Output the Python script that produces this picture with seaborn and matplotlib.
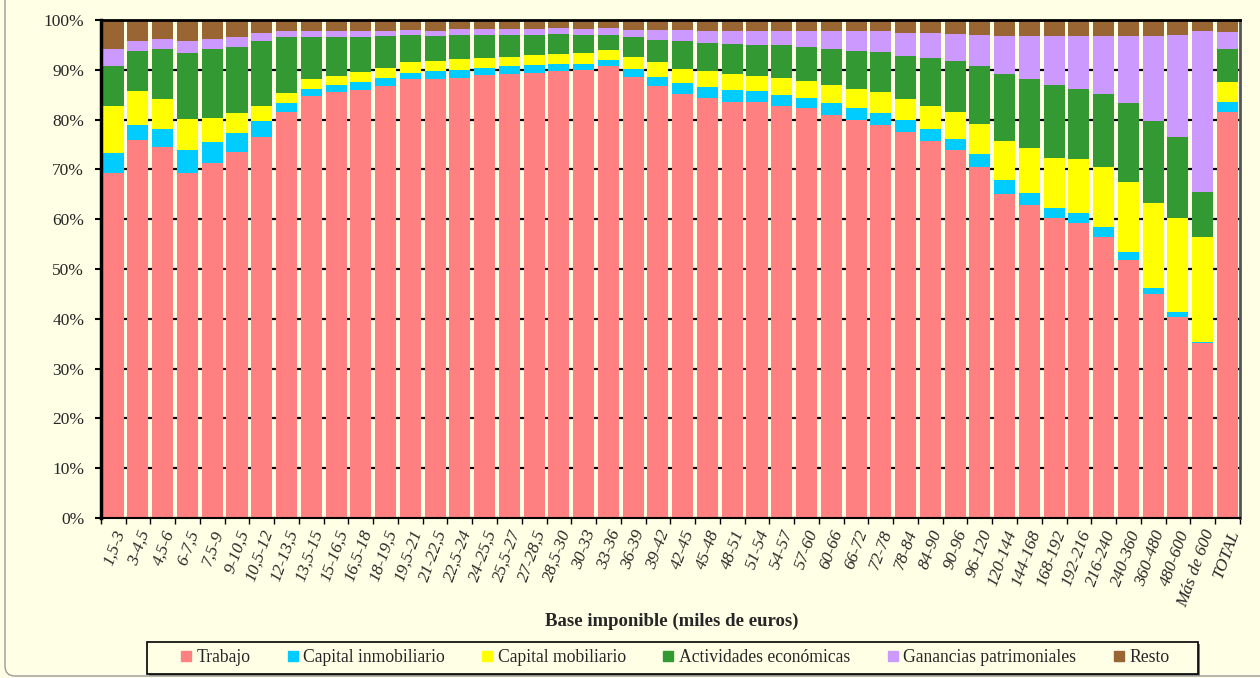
import numpy as np
import pandas as pd
import matplotlib
matplotlib.use("Agg")
import matplotlib.pyplot as plt
from matplotlib.lines import Line2D
from matplotlib.patches import FancyBboxPatch, Rectangle
from matplotlib.transforms import IdentityTransform
import seaborn as sns

tramos = ["1,5-3", "3-4,5", "4,5-6", "6-7,5", "7,5-9", "9-10,5", "10,5-12", "12-13,5",
          "13,5-15", "15-16,5", "16,5-18", "18-19,5", "19,5-21", "21-22,5", "22,5-24",
          "24-25,5", "25,5-27", "27-28,5", "28,5-30", "30-33", "33-36", "36-39", "39-42",
          "42-45", "45-48", "48-51", "51-54", "54-57", "57-60", "60-66", "66-72", "72-78",
          "78-84", "84-90", "90-96", "96-120", "120-144", "144-168", "168-192", "192-216",
          "216-240", "240-360", "360-480", "480-600", "Más de 600", "TOTAL"]

# percentage shares of each income source per tramo
trabajo = [69.3, 76.0, 74.4, 69.3, 71.3, 73.5, 76.5, 81.6, 84.7, 85.5, 85.9, 86.7, 88.2, 88.2,
           88.4, 89.0, 89.2, 89.4, 89.8, 90.0, 90.8, 88.6, 86.7, 85.1, 84.3, 83.5, 83.5, 82.7,
           82.3, 80.9, 79.9, 78.9, 77.5, 75.7, 73.9, 70.5, 65.1, 62.9, 60.2, 59.2, 56.4, 51.8,
           45.0, 40.4, 35.1, 81.5]
cap_inmobiliario = [4.0, 2.9, 3.7, 4.6, 4.2, 3.8, 3.2, 1.7, 1.4, 1.4, 1.7, 1.7, 1.2, 1.6,
                    1.6, 1.4, 1.6, 1.6, 1.4, 1.2, 1.2, 1.6, 1.9, 2.2, 2.2, 2.4, 2.2, 2.2,
                    2.0, 2.4, 2.4, 2.4, 2.4, 2.4, 2.2, 2.6, 2.8, 2.4, 2.0, 2.0, 2.0, 1.6,
                    1.2, 1.0, 0.2, 2.0]
cap_mobiliario = [9.4, 6.8, 6.0, 6.2, 4.8, 4.0, 3.0, 2.0, 2.1, 1.9, 2.0, 2.0, 2.2, 2.0,
                  2.2, 2.0, 1.8, 2.0, 2.0, 2.2, 2.0, 2.4, 3.0, 2.9, 3.3, 3.3, 3.1, 3.5,
                  3.5, 3.6, 3.8, 4.2, 4.2, 4.6, 5.4, 6.0, 7.8, 9.0, 10.1, 10.9, 12.1, 14.1,
                  17.1, 18.8, 21.1, 4.1]
act_economicas = [8.1, 8.1, 10.1, 13.3, 13.9, 13.3, 13.1, 11.3, 8.4, 7.8, 7.0, 6.4, 5.3, 5.0,
                  4.8, 4.6, 4.4, 4.0, 4.0, 3.6, 3.0, 4.0, 4.4, 5.6, 5.6, 6.0, 6.2, 6.6,
                  6.8, 7.3, 7.7, 8.1, 8.7, 9.7, 10.3, 11.7, 13.5, 13.9, 14.6, 14.0, 14.6, 15.8,
                  16.4, 16.3, 9.1, 6.6]
ganancias = [3.4, 2.0, 2.0, 2.4, 2.0, 2.0, 1.6, 1.1, 1.1, 1.1, 1.1, 1.0, 1.0, 1.0,
             1.2, 1.2, 1.2, 1.2, 1.2, 1.2, 1.4, 1.3, 1.9, 2.1, 2.3, 2.5, 2.7, 2.7,
             3.1, 3.5, 3.9, 4.1, 4.6, 5.0, 5.4, 6.2, 7.6, 8.6, 9.9, 10.7, 11.7, 13.5,
             17.1, 20.5, 32.3, 3.4]
resto = [5.8, 4.2, 3.8, 4.2, 3.8, 3.4, 2.6, 2.3, 2.3, 2.3, 2.3, 2.2, 2.1, 2.2,
         1.8, 1.8, 1.8, 1.8, 1.6, 1.8, 1.6, 2.1, 2.1, 2.1, 2.3, 2.3, 2.3, 2.3,
         2.3, 2.3, 2.3, 2.3, 2.6, 2.6, 2.8, 3.0, 3.2, 3.2, 3.2, 3.2, 3.2, 3.2,
         3.2, 3.0, 2.2, 2.4]

series_names = ["Trabajo", "Capital inmobiliario", "Capital mobiliario",
                "Actividades económicas", "Ganancias patrimoniales", "Resto"]
series_values = [trabajo, cap_inmobiliario, cap_mobiliario, act_economicas, ganancias, resto]
colors = ["#FF8080", "#00CCFF", "#FFFF00", "#339933", "#CC99FF", "#996633"]

bg = "#FFFFE6"
sns.set_style("white", {"axes.facecolor": bg, "figure.facecolor": bg})
plt.rcParams["font.family"] = ["Liberation Serif", "DejaVu Serif"]

fig = plt.figure(figsize=(12.6, 6.78), dpi=100)
ax = fig.add_axes([0.080, 0.236, 0.904, 0.7345])

df = pd.DataFrame(dict(zip(series_names, series_values)), index=tramos) / 100.0
cum = df.cumsum(axis=1)

# draw cumulative tops, biggest first, so each lower layer covers the one above
for name, col in reversed(list(zip(series_names, colors))):
    sns.barplot(x=cum.index, y=cum[name].values, order=tramos, color=col,
                saturation=1, width=0.85, linewidth=0, ax=ax)

ax.set_xlim(-0.5, len(tramos) - 0.5)
ax.set_ylim(0, 1)
ticks = np.arange(0, 1.01, 0.1)
ax.set_yticks(ticks)
ax.set_yticklabels([f"{int(round(v * 100))}%" for v in ticks], fontsize=12.5)
ax.yaxis.grid(True, color="black", linewidth=1.6)
ax.set_axisbelow(True)
ax.tick_params(axis="y", length=4, width=1.5, color="black", direction="out", pad=8, left=True)

ax.set_xticks(range(len(tramos)))
ax.set_xticklabels(tramos, rotation=70, ha="right", va="top", rotation_mode="anchor",
                   fontsize=12.5, fontstyle="italic")
ax.tick_params(axis="x", which="major", length=0, pad=7)
ax.set_xticks(np.arange(-0.5, len(tramos), 1.0), minor=True)
ax.tick_params(axis="x", which="minor", length=4, width=1, color="black", direction="out", bottom=True)

ax.set_xlabel("Base imponible (miles de euros)", fontsize=13.5, fontweight="bold")
ax.xaxis.set_label_coords(0.501, -0.19)
ax.set_ylabel("")

for side in ["left", "top", "bottom"]:
    ax.spines[side].set_visible(True)
    ax.spines[side].set_color("black")
ax.spines["left"].set_linewidth(2.5)
ax.spines["top"].set_linewidth(2)
ax.spines["bottom"].set_linewidth(1.5)
ax.spines["right"].set_visible(True)
ax.spines["right"].set_color("#555555")
ax.spines["right"].set_linewidth(2)

# legend box drawn by hand (wide side padding, narrow top/bottom)
shadow = Rectangle((149, 2), 1051, 32, transform=IdentityTransform(),
                   facecolor="#7A7A7A", edgecolor="none")
box = Rectangle((147, 4), 1051, 32, transform=IdentityTransform(),
                facecolor=bg, edgecolor="black", linewidth=1.2)
fig.patches.extend([shadow, box])

handles = [Line2D([0], [0], marker="s", linestyle="none", markersize=7.2,
                  markerfacecolor=c, markeredgecolor=c) for c in colors]
leg = fig.legend(handles, series_names, loc="center", bbox_to_anchor=(0.5353, 0.0295),
                 ncol=6, frameon=False, fontsize=12.7,
                 handlelength=0.7, handletextpad=0.25, columnspacing=2.05, borderpad=0)

border = FancyBboxPatch((5, 2), 1400, 800, boxstyle="round,pad=0,rounding_size=10",
                        transform=IdentityTransform(), facecolor="none",
                        edgecolor="#9A9A9A", linewidth=1)
fig.patches.append(border)

fig.savefig("out.png", dpi=100, facecolor=bg)
